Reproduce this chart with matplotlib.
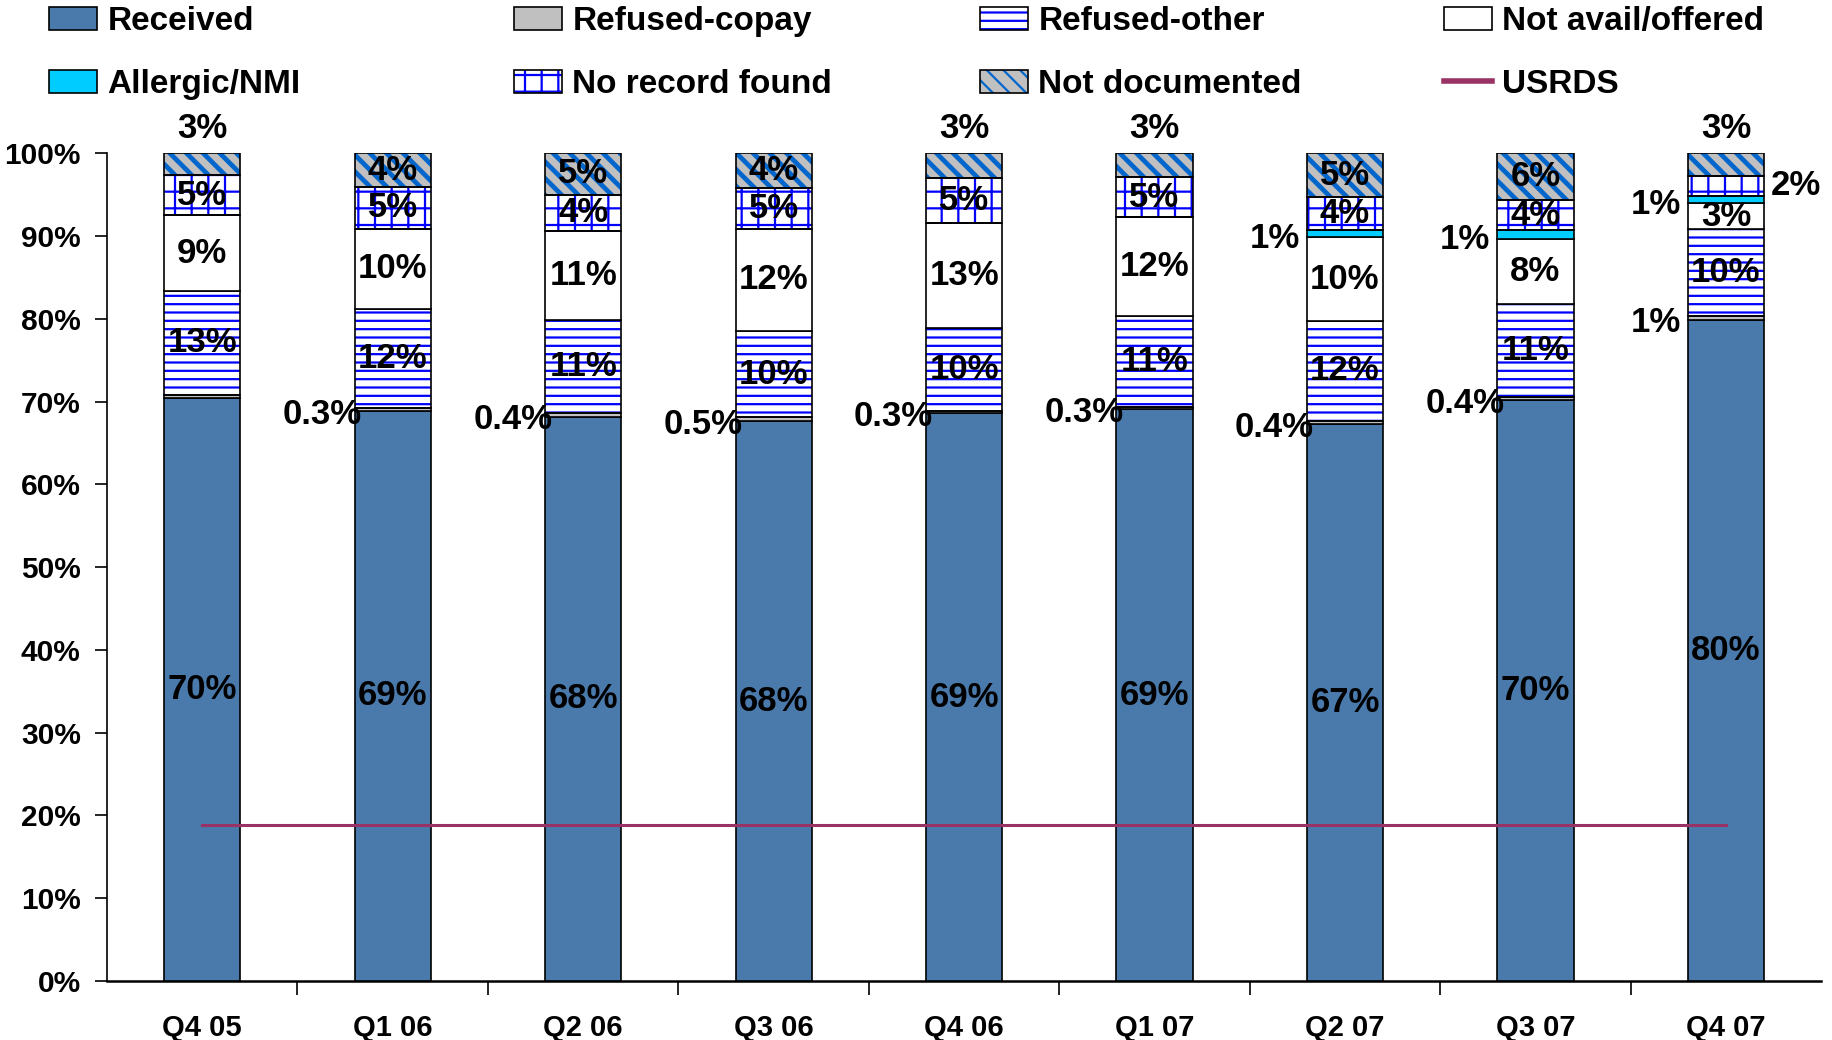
import numpy as np
import matplotlib
matplotlib.use("Agg")
import matplotlib.pyplot as plt
import matplotlib.patches as mpatches
from matplotlib.lines import Line2D

plt.rcParams['font.family'] = ['Liberation Sans', 'DejaVu Sans']
plt.rcParams['font.weight'] = 'bold'
plt.rcParams['hatch.linewidth'] = 1.6

# data (percent of patients)
quarters = ["Q4 05", "Q1 06", "Q2 06", "Q3 06", "Q4 06", "Q1 07", "Q2 07", "Q3 07", "Q4 07"]
received = [70.4, 68.9, 68.2, 67.6, 68.6, 69.1, 67.3, 70.2, 79.8]
refused_copay = [0.4, 0.3, 0.4, 0.5, 0.3, 0.3, 0.4, 0.4, 0.6]
refused_other = [12.6, 12.0, 11.3, 10.4, 10.0, 11.0, 12.0, 11.2, 10.4]
not_avail = [9.1, 9.7, 10.7, 12.4, 12.7, 11.9, 10.2, 7.8, 3.2]
allergic = [0, 0, 0, 0, 0, 0, 0.8, 1.1, 0.9]
no_record = [4.9, 5.0, 4.4, 4.9, 5.4, 4.8, 4.0, 3.6, 2.4]
not_documented = [2.6, 4.1, 5.0, 4.2, 3.0, 2.9, 5.3, 5.7, 2.7]
usrds = [18.9, 18.9, 18.9, 18.9, 18.9, 18.9, 18.9, 18.9, 18.9]

# (values, name, face colour, hatch, hatch colour, hatch width)
series = [
    (received, "Received", "#4A7AAB", None, None, 0),
    (refused_copay, "Refused-copay", "#C0C0C0", None, None, 0),
    (refused_other, "Refused-other", "white", "--", "#0000FF", 1.6),
    (not_avail, "Not avail/offered", "white", None, None, 0),
    (allergic, "Allergic/NMI", "#00CCFF", None, None, 0),
    (no_record, "No record found", "white", "+", "#0000FF", 1.6),
    (not_documented, "Not documented", "#C0C0C0", "\\\\", "#0066CC", 3.4),
]

def fmt(v):
    # small shares are shown with one decimal
    if v < 0.55:
        return "%.1f%%" % v
    return "%.0f%%" % v

def set_hatch_width(patch, w):
    # per-patch hatch width (newer mpl) + fallback through rcParams at draw time
    if hasattr(patch, "set_hatch_linewidth"):
        patch.set_hatch_linewidth(w)
    orig = patch.draw

    def draw(renderer, _orig=orig, _w=w):
        with plt.rc_context({'hatch.linewidth': _w}):
            _orig(renderer)
    patch.draw = draw

fig = plt.figure(figsize=(18.33, 10.40), dpi=100)
ax = fig.add_axes([0.0584, 0.0567, 0.9351, 0.7959])

x = np.arange(len(quarters))
width = 0.40
lab_fs = 25
side = 0.17  # offset of labels placed beside a bar

bottom = np.zeros(len(quarters))
handles = {}
for vals, name, fc, hatch, hc, hw in series:
    vals = np.array(vals, dtype=float)
    if hatch:
        bars = ax.bar(x, vals, width, bottom=bottom, color=fc, edgecolor=hc,
                      hatch=hatch, linewidth=0, zorder=2)
        for p in bars:
            set_hatch_width(p, hw)
        ax.bar(x, vals, width, bottom=bottom, facecolor='none',
               edgecolor='black', linewidth=1.2, zorder=3)
        hp = mpatches.Patch(facecolor=fc, edgecolor=hc, hatch=hatch, linewidth=0)
        if hasattr(hp, "set_hatch_linewidth"):
            hp.set_hatch_linewidth(hw)
        handles[name] = (hp, mpatches.Patch(facecolor='none', edgecolor='black', linewidth=1.2))
    else:
        ax.bar(x, vals, width, bottom=bottom, color=fc, edgecolor='black',
               linewidth=1.2, zorder=3)
        handles[name] = mpatches.Patch(facecolor=fc, edgecolor='black', linewidth=1.2)

    # segment labels
    for i, v in enumerate(vals):
        if v <= 0:
            continue
        mid = bottom[i] + v / 2
        left = x[i] - width / 2
        right = x[i] + width / 2
        if name in ("Refused-copay", "Allergic/NMI"):
            if name == "Refused-copay" and i == 0:
                continue  # no label on the first quarter
            ax.text(left - side, mid - 0.6, fmt(v), ha='center', va='center',
                    fontsize=lab_fs, fontweight='bold', zorder=5)
        elif name == "Not documented" and v < 3.5:
            ax.text(x[i], 103.0, fmt(v), ha='center', va='center',
                    fontsize=lab_fs, fontweight='bold', zorder=5, clip_on=False)
        elif name == "No record found" and v < 3:
            ax.text(right + side, mid, fmt(v), ha='center', va='center',
                    fontsize=lab_fs, fontweight='bold', zorder=5)
        else:
            ax.text(x[i], mid, fmt(v), ha='center', va='center',
                    fontsize=lab_fs, fontweight='bold', zorder=5)
    bottom += vals

ax.plot(x, usrds, color="#993366", linewidth=2.2, zorder=4)
handles["USRDS"] = Line2D([0], [0], color="#993366", linewidth=4)

ax.set_xlim(-0.5, len(quarters) - 0.5)
ax.set_ylim(0, 100)
ax.set_yticks(np.arange(0, 101, 10))
ax.set_yticklabels(["%d%%" % t for t in range(0, 101, 10)], fontsize=21.5, fontweight='bold')
ax.set_xticks(x)
ax.set_xticklabels(quarters, fontsize=21, fontweight='bold')
ax.set_xticks(np.arange(0.5, len(quarters) - 1, 1.0), minor=True)
ax.tick_params(axis='x', which='major', length=0, pad=24)
ax.tick_params(axis='x', which='minor', length=10, width=1.2, direction='out')
ax.tick_params(axis='y', length=9, width=1.2, direction='out', pad=10)
ax.spines['top'].set_visible(False)
ax.spines['right'].set_visible(False)
ax.spines['left'].set_linewidth(1.2)
ax.spines['bottom'].set_linewidth(1.8)

# legend: four columns of two entries each
legend_cols = [["Received", "Allergic/NMI"],
               ["Refused-copay", "No record found"],
               ["Refused-other", "Not documented"],
               ["Not avail/offered", "USRDS"]]
col_x = [0.0267, 0.2804, 0.5346, 0.7878]
for cx, names in zip(col_x, legend_cols):
    leg = fig.legend([handles[n] for n in names], names, loc='center left',
                     bbox_to_anchor=(cx, 0.949), frameon=False, fontsize=24,
                     handlelength=1.45, handleheight=0.7, handletextpad=0.3,
                     labelspacing=0.95, borderpad=0, borderaxespad=0)
    for t in leg.get_texts():
        t.set_fontweight('bold')

fig.savefig("out.png", dpi=100)
